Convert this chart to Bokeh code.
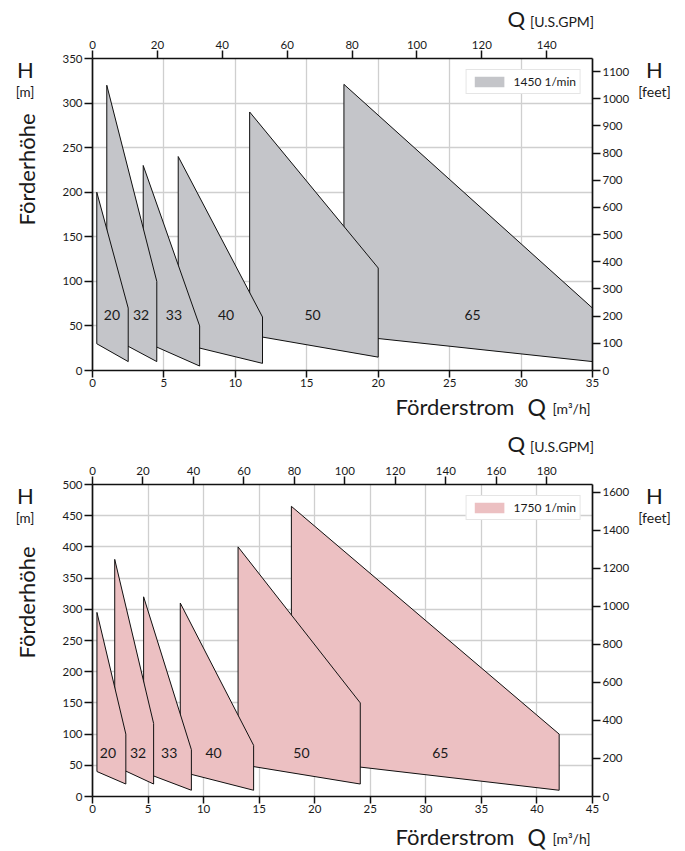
import math
from bokeh.plotting import figure
from bokeh.models import (Range1d, LinearAxis, SingleIntervalTicker,
                          ColumnDataSource, Legend, LegendItem)
from bokeh.layouts import column, row
from bokeh.core.properties import value
from bokeh.embed import file_html
from bokeh.resources import INLINE

# ---------------- data ----------------
pump_sizes = ["20", "32", "33", "40", "50", "65"]

# 1450 1/min : flow range and head limits of each pump size
q_start_1450 = [0.3, 1.0, 3.55, 6.0, 11.0, 17.6]
q_end_1450 = [2.5, 4.5, 7.5, 11.9, 20.0, 35.0]
h_top_start_1450 = [200, 320, 230, 240, 290, 321]
h_top_end_1450 = [70, 100, 50, 60, 115, 70]
h_bot_start_1450 = [30, 40, 33, 31, 40, 40]
h_bot_end_1450 = [10, 10, 5, 8, 15, 10]
label_q_1450 = [1.36, 3.4, 5.7, 9.35, 15.4, 26.6]
label_h_1450 = [62, 62, 62, 62, 62, 62]

# 1750 1/min
q_start_1750 = [0.4, 2.0, 4.6, 7.9, 13.1, 17.9]
q_end_1750 = [3.0, 5.5, 8.9, 14.5, 24.1, 42.0]
h_top_start_1750 = [295, 380, 320, 310, 400, 465]
h_top_end_1750 = [100, 117, 75, 82, 150, 100]
h_bot_start_1750 = [40, 49, 39, 40, 52, 60]
h_bot_end_1750 = [20, 20, 10, 10, 20, 10]
label_q_1750 = [1.39, 4.1, 6.9, 10.9, 18.8, 31.3]
label_h_1750 = [70, 70, 70, 70, 70, 70]

speed_labels = ["1450 1/min", "1750 1/min"]

# ---------------- style ----------------
FONT = "Lato"
TXT = "#1a1a1a"
M3H_TO_GPM = 4.402868
M_TO_FT = 3.28084
W = 685
LEFT_W = 45
RIGHT_W = 51
MAIN_W = W - LEFT_W - RIGHT_W
FRAME_W = 500
FRAME_H = 312
MB_LEFT = 92 - LEFT_W
MB_RIGHT = MAIN_W - MB_LEFT - FRAME_W
TOP_STRIP_H = 30


def text_strip(width, height, top_abs, left_abs, items, b_top=0, b_bot=0):
    """Plain figure used only to hold the texts round the chart.
    items: (text, page_x, page_y_of_centre, size, align, angle)."""
    s = figure(width=width, height=height,
               x_range=Range1d(0, width),
               y_range=Range1d(b_bot, height - b_top),
               output_backend="svg", toolbar_location=None,
               x_axis_location=None, y_axis_location=None,
               min_border=0, title=None)
    s.min_border_left = 0
    s.min_border_right = 0
    s.min_border_top = b_top
    s.min_border_bottom = b_bot
    s.outline_line_color = None
    s.xgrid.visible = False
    s.ygrid.visible = False
    s.background_fill_color = "white"
    s.border_fill_color = "white"
    for txt, xa, ya, size, align, ang in items:
        s.text(x=[xa - left_abs], y=[height - (ya - top_abs)], text=[txt],
               text_font=value(FONT), text_font_size=size, text_color=TXT,
               text_align=align, text_baseline="middle", angle=ang)
    return s


def main_chart(q0, q1, ht0, ht1, hb0, hb1, lq, lh, xmax, ymax, y_int,
               ft_int, fill, legend_text, border_top, border_bottom):
    height = border_top + FRAME_H + border_bottom
    p = figure(width=MAIN_W, height=height, x_range=Range1d(0, xmax),
               y_range=Range1d(0, ymax), output_backend="svg",
               toolbar_location=None, min_border_left=MB_LEFT,
               min_border_right=MB_RIGHT, min_border_top=border_top,
               min_border_bottom=border_bottom, title=None)
    p.outline_line_color = None
    p.background_fill_color = "white"
    p.border_fill_color = "white"

    p.extra_y_ranges = {"feet": Range1d(0, ymax * M_TO_FT)}
    p.extra_x_ranges = {"gpm": Range1d(0, xmax * M3H_TO_GPM)}

    xa = p.xaxis[0]
    ya = p.yaxis[0]
    xa.ticker = SingleIntervalTicker(interval=5)
    ya.ticker = SingleIntervalTicker(interval=y_int)
    ra = LinearAxis(y_range_name="feet",
                    ticker=SingleIntervalTicker(interval=ft_int))
    ta = LinearAxis(x_range_name="gpm",
                    ticker=SingleIntervalTicker(interval=20))
    p.add_layout(ra, "right")
    p.add_layout(ta, "above")
    for ax in (xa, ya, ra, ta):
        ax.axis_line_color = "#111111"
        ax.axis_line_width = 1.7
        ax.major_tick_line_color = "#111111"
        ax.major_tick_line_width = 1.5
        ax.major_tick_in = 0
        ax.major_tick_out = 8
        ax.minor_tick_line_color = None
        ax.major_label_text_font = FONT
        ax.major_label_text_font_size = "11.5px"
        ax.major_label_text_color = TXT
        ax.major_label_standoff = 2
    xa.major_tick_out = 7
    xa.major_label_standoff = 1

    p.xgrid.grid_line_color = "#cfcfcf"
    p.xgrid.grid_line_width = 1.3
    p.ygrid.grid_line_color = "#cfcfcf"
    p.ygrid.grid_line_width = 1.3

    # polygons (largest first so smaller pumps lie on top)
    xs, ys = [], []
    for i in reversed(range(len(q0))):
        xs.append([q0[i], q0[i], q1[i], q1[i]])
        ys.append([hb0[i], ht0[i], ht1[i], hb1[i]])
    src_poly = ColumnDataSource(dict(xs=xs, ys=ys))
    r_fill = p.patches(xs="xs", ys="ys", source=src_poly, fill_color=fill,
                       fill_alpha=1.0, line_color=None)
    p.patches(xs="xs", ys="ys", source=src_poly, fill_color=fill,
              fill_alpha=1.0, line_color="#111111", line_width=1.0,
              line_join="miter")

    src = ColumnDataSource(dict(x=lq, y=lh, t=pump_sizes))
    p.text(x="x", y="y", text="t", source=src, text_font=value(FONT),
           text_font_size="14px", text_color=TXT, text_align="center",
           text_baseline="middle")

    leg = Legend(items=[LegendItem(label=legend_text, renderers=[r_fill])],
                 location="top_right", margin=11, padding=4,
                 glyph_width=37, glyph_height=13, label_height=13,
                 label_standoff=6, label_text_font=FONT,
                 label_text_font_size="12px", label_text_color=TXT,
                 border_line_color="#cccccc", border_line_width=1.2,
                 background_fill_color="white", background_fill_alpha=1.0)
    p.add_layout(leg, "center")
    return p, height


def chart_block(data, xmax, ymax, y_int, ft_int, fill, legend_text,
                top_abs, total_h, border_top, border_bottom, pos):
    p, main_h = main_chart(*data, xmax, ymax, y_int, ft_int, fill,
                           legend_text, border_top, border_bottom)
    row_top = top_abs + TOP_STRIP_H
    bot_top = row_top + main_h
    bottom_h = total_h - TOP_STRIP_H - main_h
    top = text_strip(W, TOP_STRIP_H, top_abs, 0, [
        ("Q", 507, pos["q_top"], "22px", "left", 0),
        ("[U.S.GPM]", 529.5, pos["q_top"] + 3.5, "14px", "left", 0),
    ])
    left = text_strip(LEFT_W, main_h, row_top, 0, [
        ("H", 25, pos["h"], "22px", "center", 0),
        ("[m]", 24.5, pos["unit"], "13.5px", "center", 0),
        ("Förderhöhe", 25.5, pos["rot"], "22px", "center", math.pi / 2),
    ], b_top=border_top, b_bot=border_bottom)
    right = text_strip(RIGHT_W, main_h, row_top, LEFT_W + MAIN_W, [
        ("H", 654, pos["h"], "22px", "center", 0),
        ("[feet]", 654, pos["unit"], "14px", "center", 0),
    ], b_top=border_top, b_bot=border_bottom)
    bottom = text_strip(W, bottom_h, bot_top, 0, [
        ("Förderstrom", 395, pos["q_bot"], "22px", "left", 0),
        ("Q", 527, pos["q_bot"] + 0.5, "23px", "left", 0),
        ("[m³/h]", 552, pos["q_bot"] + 2, "14px", "left", 0),
    ])
    return column(top, row(left, p, right, spacing=0), bottom, spacing=0)


# positions are the vertical centres of the texts on the page
block1 = chart_block(
    (q_start_1450, q_end_1450, h_top_start_1450, h_top_end_1450,
     h_bot_start_1450, h_bot_end_1450, label_q_1450, label_h_1450),
    35, 350, 50, 100, "#c4c5c9", speed_labels[0],
    top_abs=0, total_h=425, border_top=28, border_bottom=22,
    pos=dict(q_top=17.5, h=69, unit=91, rot=169, q_bot=406))

block2 = chart_block(
    (q_start_1750, q_end_1750, h_top_start_1750, h_top_end_1750,
     h_bot_start_1750, h_bot_end_1750, label_q_1750, label_h_1750),
    45, 500, 50, 200, "#ecc0c2", speed_labels[1],
    top_abs=425, total_h=426, border_top=29, border_bottom=22,
    pos=dict(q_top=442.5, h=495, unit=517, rot=602, q_bot=835.5))

layout = column(block1, block2, spacing=0)
open("out.html", "w").write(file_html(layout, INLINE))
